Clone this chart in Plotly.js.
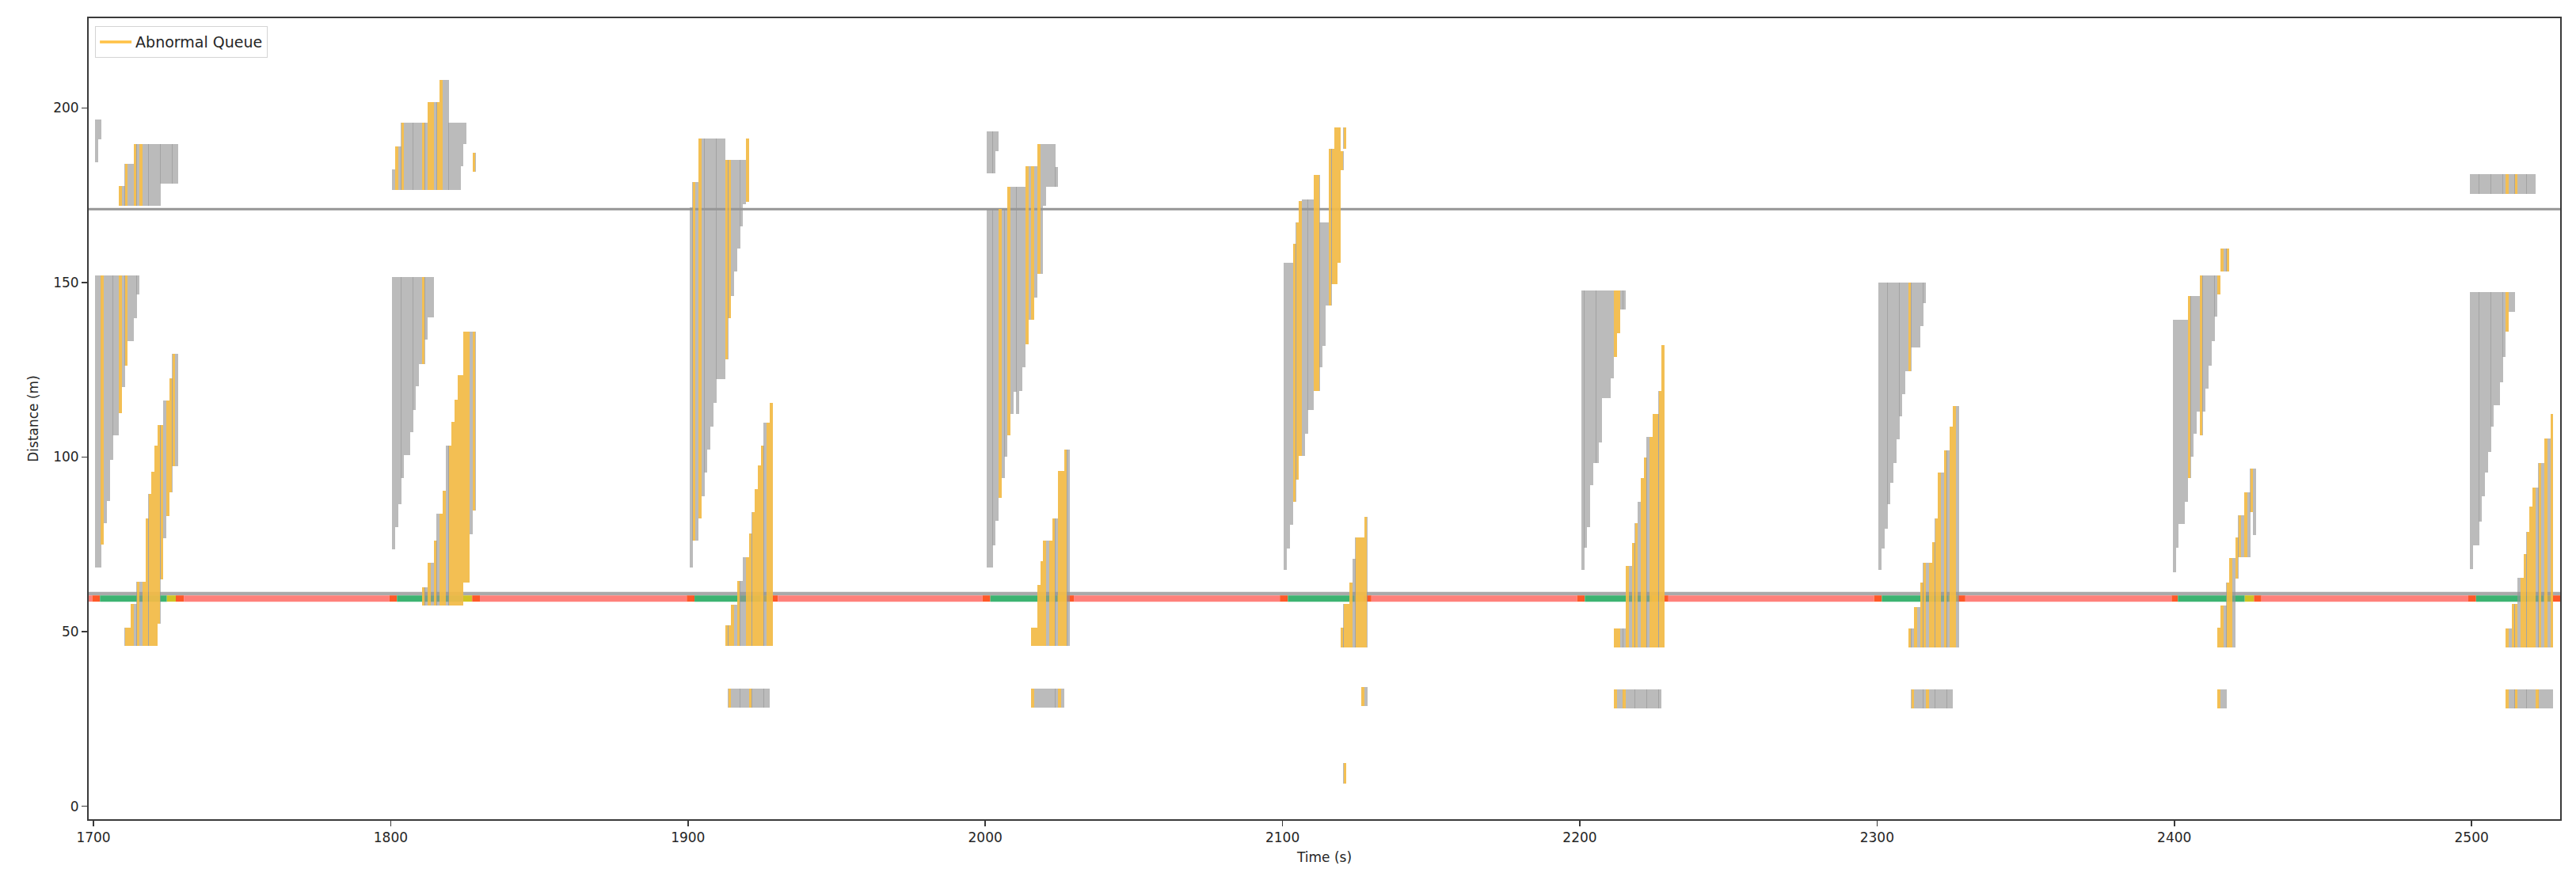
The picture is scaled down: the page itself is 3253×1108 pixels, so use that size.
<!DOCTYPE html>
<html>
<head>
<meta charset="utf-8">
<script src="https://cdn.plot.ly/plotly-3.0.1.min.js"></script>
<style>html,body{margin:0;padding:0;background:#fff}#chart{width:3253px;height:1108px}</style>
</head>
<body>
<div id="chart"></div>
<script>
// ---------- DATA ----------
// Each queue bar: [time (s), lower distance (m), upper distance (m), abnormal flag]
const cycle1700 = [
  [1701,184.5,196.6,0],[1702,191,196.6,0],
  [1709,172,177.6,1],[1710,172,177.6,0],[1711,172,183.9,1],[1712,172,183.9,0],[1713,172,183.9,0],
  [1714,172,189.7,1],[1715,172,189.7,0],[1716,172,189.7,1],[1717,172,189.7,0],[1718,172,189.7,0],
  [1719,172,189.7,0],[1720,172,189.7,0],[1721,172,189.7,0],[1722,172,189.7,0],
  [1723,178.3,189.7,0],[1724,178.3,189.7,0],[1725,178.3,189.7,0],[1726,178.3,189.7,0],[1727,178.3,189.7,0],[1728,178.3,189.7,0],
  [1701,68.4,152,0],[1702,68.4,152,0],[1703,75,152,1],[1704,81.1,152,0],[1705,87.5,152,0],[1706,99.2,152,0],
  [1707,106.2,152,0],[1708,106.2,152,0],[1709,112.7,152,1],[1710,120,152,0],[1711,126.3,152,1],
  [1712,133.3,152,0],[1713,133.3,152,0],[1714,139.7,152,0],[1715,146.7,152,0],
  [1711,46,51.2,1],[1712,46,51.2,1],[1713,46,57.9,1],[1714,46,57.9,0],[1715,46,64.3,1],[1716,46,64.3,0],
  [1717,46,64.3,1],[1718,46,82.4,1],[1719,46,89.4,1],[1720,46,95.8,1],[1721,46,103.2,1],[1722,52.2,109.2,1],
  [1723,65,109.2,1],[1724,76.8,116.2,0],[1725,83.2,116.2,1],[1726,90,122.6,1],[1727,97.4,129.5,1],[1728,97.4,129.5,0]
];
const cycle1800 = [
  [1801,176.6,182.3,0],[1802,176.6,189,1],[1803,176.6,189,0],[1804,176.6,195.7,1],
  [1805,176.6,195.7,0],[1806,176.6,195.7,0],[1807,176.6,195.7,0],[1808,176.6,195.7,0],[1809,176.6,195.7,0],[1810,176.6,195.7,0],
  [1811,176.6,195.7,1],[1812,176.6,195.7,0],[1813,176.6,201.7,1],[1814,176.6,201.7,1],[1815,176.6,201.7,0],[1816,176.6,201.7,1],
  [1817,176.6,208.1,1],[1818,176.6,208.1,0],[1819,176.6,208.1,0],[1820,176.6,195.7,0],[1821,176.6,195.7,0],[1822,176.6,195.7,0],
  [1823,176.6,195.7,0],[1824,183.2,195.7,0],[1825,189.7,195.7,0],[1828,181.7,187.2,1],
  [1801,73.5,151.5,0],[1802,79.9,151.5,0],[1803,86.5,151.5,0],[1804,93.9,151.5,0],[1805,100.5,151.5,0],[1806,100.5,151.5,0],
  [1807,107.2,151.5,0],[1808,113.6,151.5,0],[1809,120.2,151.5,0],[1810,126.6,151.5,0],[1811,126.6,151.5,1],[1812,133.7,151.5,0],
  [1813,140.1,151.5,0],[1814,140.1,151.5,0],
  [1811,57.4,62.7,1],[1812,57.4,62.7,0],[1813,57.4,69.7,1],[1814,57.4,69.7,0],[1815,57.4,76.1,1],[1816,57.4,83.7,0],
  [1817,57.4,83.7,1],[1818,57.4,90.4,1],[1819,57.4,103.4,0],[1820,57.4,103.4,1],[1821,57.4,110,1],[1822,57.4,116.4,1],
  [1823,57.4,123.4,1],[1824,57.4,123.4,1],[1825,64,135.9,1],[1826,64,135.9,1],[1827,78,135.9,0],[1828,84.6,135.9,1]
];
const cycle1900 = [
  [1901,68.4,171.5,0],[1902,76.1,178.8,1],[1903,76.1,178.8,0],[1904,82.4,191.3,1],[1905,88.8,191.3,0],[1906,95.5,191.3,0],
  [1907,102.2,191.3,0],[1908,108.8,191.3,0],[1909,115.5,191.3,0],[1910,122.3,191.3,0],[1911,122.3,191.3,0],[1912,122.3,191.3,0],
  [1913,127.9,185.2,1],[1914,139.7,185.2,1],[1915,146.1,185.2,0],[1916,153.1,185.2,0],
  [1917,159.7,185.2,0],[1918,166,185.2,0],[1919,172.4,185.2,0],[1920,173.2,191.3,1],
  [1913,45.9,51.9,1],[1914,45.9,51.9,1],[1915,45.9,57.8,1],[1916,45.9,57.8,0],[1917,45.9,64.6,1],[1918,45.9,64.6,0],
  [1919,45.9,71.3,0],[1920,45.9,71.3,1],[1921,45.9,78.2,1],[1922,45.9,84.3,1],[1923,45.9,90.9,1],[1924,45.9,97.7,1],
  [1925,45.9,103.4,1],[1926,45.9,109.8,0],[1927,45.9,109.8,1],[1928,45.9,115.5,1],
  [1914,28.3,33.7,1],[1915,28.3,33.7,0],[1916,28.3,33.7,0],[1917,28.3,33.7,0],[1918,28.3,33.7,0],[1919,28.3,33.7,0],
  [1920,28.3,33.7,0],[1921,28.3,33.7,1],[1922,28.3,33.7,0],[1923,28.3,33.7,0],[1924,28.3,33.7,0],[1925,28.3,33.7,0],
  [1926,28.3,33.7,0],[1927,28.3,33.7,0]
];
const cycle2000 = [
  [2001,181.3,193.2,0],[2002,181.3,193.2,0],[2003,181.3,193.2,0],[2004,187.7,193.2,0],
  [2001,68.4,171,0],[2002,68.4,171,0],[2003,74.8,171,0],[2004,81.8,171,0],[2005,88.4,171,1],[2006,93.9,171,0],[2007,100.2,171,0],
  [2008,106.2,177.5,1],[2009,112.3,177.5,0],[2010,118.7,177.5,0],[2011,112.3,177.5,0],[2012,118.9,177.5,0],[2013,125.7,177.5,0],
  [2014,132.4,183.4,1],[2015,139.3,183.4,0],[2016,139.3,183.4,1],[2017,145.7,183.4,0],
  [2018,152.4,189.7,1],[2019,152.4,189.7,0],[2020,171.9,189.7,0],[2021,177.5,189.7,0],[2022,177.5,189.7,0],[2023,177.5,189.7,0],[2024,177.5,183,0],
  [2016,45.9,51.2,1],[2017,45.9,51.2,1],[2018,45.9,63.3,1],[2019,45.9,70.1,1],[2020,45.9,76.1,1],[2021,45.9,76.1,0],[2022,45.9,76.1,1],
  [2023,45.9,82.4,1],[2024,45.9,82.4,0],[2025,45.9,96,1],[2026,45.9,96,1],[2027,45.9,102.2,1],[2028,45.9,102.2,0],
  [2016,28.3,33.7,1],[2017,28.3,33.7,0],[2018,28.3,33.7,0],[2019,28.3,33.7,0],[2020,28.3,33.7,0],[2021,28.3,33.7,0],
  [2022,28.3,33.7,0],[2023,28.3,33.7,0],[2024,28.3,33.7,0],[2025,28.3,33.7,1],[2026,28.3,33.7,0]
];
const cycle2100 = [
  [2101,67.7,155.7,0],[2102,73.9,155.7,0],[2103,80.7,155.7,0],[2104,87.1,161.2,1],[2105,93.5,167.3,1],[2106,100.3,173.4,1],
  [2107,100.3,173.7,0],[2108,106.8,173.7,0],[2109,113.6,173.7,0],[2110,113.6,173.7,0],[2111,119,180.9,1],[2112,119,180.9,1],
  [2113,125.8,167.3,0],[2114,131.9,167.3,0],[2115,143.5,167.3,0],[2116,143.5,188.3,1],[2117,149.6,188.3,1],[2118,149.6,194.5,1],
  [2119,155.7,194.5,1],[2120,182.2,187.7,1],[2121,188.3,194.5,1],
  [2120,45.6,51.1,1],[2121,45.6,57.9,1],[2122,45.6,57.9,1],[2123,45.6,64,1],[2124,45.6,70.8,0],[2125,45.6,76.9,1],
  [2126,45.6,76.9,1],[2127,45.6,76.9,1],[2128,45.6,83,1],
  [2127,28.7,34.1,1],[2128,28.7,34.1,0],
  [2121,6.5,12.4,1]
];
const cycle2200 = [
  [2201,67.8,147.7,0],[2202,74.1,147.7,0],[2203,79.9,147.7,0],[2204,92,147.7,0],[2205,98.3,147.7,0],[2206,98.3,147.7,0],
  [2207,104.1,147.7,0],[2208,116.8,147.7,0],[2209,116.8,147.7,0],[2210,116.8,147.7,0],[2211,122.5,147.7,0],[2212,128.6,147.7,1],
  [2213,135.5,147.7,1],[2214,142.2,147.7,0],[2215,142.2,147.7,0],
  [2212,45.5,51,1],[2213,45.5,51,1],[2214,45.5,51,0],[2215,45.5,51,0],[2216,45.5,68.8,1],[2217,45.5,68.8,0],[2218,45.5,75.4,1],
  [2219,45.5,81.1,1],[2220,45.5,87.1,0],[2221,45.5,93.9,1],[2222,45.5,99.9,1],[2223,45.5,105.7,0],[2224,45.5,105.7,1],
  [2225,45.5,112.3,1],[2226,45.5,112.3,1],[2227,45.5,118.9,1],[2228,45.5,132,1],
  [2212,28.1,33.4,1],[2213,28.1,33.4,0],[2214,28.1,33.4,0],[2215,28.1,33.4,1],[2216,28.1,33.4,0],[2217,28.1,33.4,0],
  [2218,28.1,33.4,0],[2219,28.1,33.4,0],[2220,28.1,33.4,0],[2221,28.1,33.4,0],[2222,28.1,33.4,0],[2223,28.1,33.4,0],
  [2224,28.1,33.4,0],[2225,28.1,33.4,0],[2226,28.1,33.4,0],[2227,28.1,33.4,0]
];
const cycle2300 = [
  [2301,67.8,149.9,0],[2302,73.9,149.9,0],[2303,79.5,149.9,0],[2304,86.5,149.9,0],[2305,92.6,149.9,0],[2306,98.3,149.9,0],
  [2307,105,149.9,0],[2308,111.7,149.9,0],[2309,118.1,149.9,0],[2310,124.7,149.9,0],[2311,124.7,149.9,1],[2312,131.4,149.9,0],
  [2313,131.4,149.9,0],[2314,131.4,149.9,0],[2315,137.5,149.9,0],[2316,144.2,149.9,0],
  [2311,45.5,51,1],[2312,45.5,51,0],[2313,45.5,57,1],[2314,45.5,57,0],[2315,45.5,64,1],[2316,45.5,69.7,1],[2317,45.5,69.7,0],
  [2318,45.5,69.7,1],[2319,45.5,75.7,1],[2320,45.5,82.4,1],[2321,45.5,95.5,1],[2322,45.5,95.5,0],[2323,45.5,101.9,1],
  [2324,45.5,101.9,0],[2325,45.5,108.8,1],[2326,45.5,114.6,1],[2327,45.5,114.6,0],
  [2312,28.1,33.4,1],[2313,28.1,33.4,0],[2314,28.1,33.4,0],[2315,28.1,33.4,0],[2316,28.1,33.4,0],[2317,28.1,33.4,1],
  [2318,28.1,33.4,0],[2319,28.1,33.4,0],[2320,28.1,33.4,0],[2321,28.1,33.4,0],[2322,28.1,33.4,0],[2323,28.1,33.4,0],
  [2324,28.1,33.4,0],[2325,28.1,33.4,0]
];
const cycle2400 = [
  [2400,67.1,139.3,0],[2401,74.1,139.3,0],[2402,80.8,139.3,0],[2403,80.8,139.3,0],[2404,87.1,139.3,0],
  [2405,93.9,146.1,1],[2406,100.2,146.1,0],[2407,106.6,146.1,0],[2408,113,146.1,0],
  [2409,106.2,152.1,1],[2410,113,152.1,0],[2411,119.7,152.1,0],[2412,126.1,152.1,0],[2413,133.3,152.1,0],[2414,140.3,152.1,0],
  [2415,146.7,152.1,1],[2416,153.1,159.7,1],[2417,153.1,159.7,0],[2418,153.1,159.7,1],
  [2415,45.5,51.2,1],[2416,45.5,57.6,1],[2417,45.5,57.6,0],[2418,45.5,64,1],[2419,45.5,71,1],[2420,45.5,71,0],
  [2421,65.2,76.9,1],[2422,71.3,83.3,1],[2423,71.3,83.3,0],[2424,71.3,90,1],[2425,71.3,90,0],[2426,84.3,96.8,1],[2427,77.7,96.8,0],
  [2415,28.1,33.4,1],[2416,28.1,33.4,0],[2417,28.1,33.4,0]
];
const cycle2500 = [
  [2500,175.3,181.1,0],[2501,175.3,181.1,0],[2502,175.3,181.1,0],[2503,175.3,181.1,0],[2504,175.3,181.1,0],[2505,175.3,181.1,0],
  [2506,175.3,181.1,0],[2507,175.3,181.1,0],[2508,175.3,181.1,0],[2509,175.3,181.1,0],[2510,175.3,181.1,0],[2511,175.3,181.1,0],
  [2512,175.3,181.1,1],[2513,175.3,181.1,0],[2514,175.3,181.1,0],[2515,175.3,181.1,1],[2516,175.3,181.1,0],[2517,175.3,181.1,0],
  [2518,175.3,181.1,0],[2519,175.3,181.1,0],[2520,175.3,181.1,0],[2521,175.3,181.1,0],
  [2500,68,147.3,0],[2501,74.8,147.3,0],[2502,74.8,147.3,0],[2503,81.5,147.3,0],[2504,88.8,147.3,0],[2505,95.5,147.3,0],
  [2506,101.5,147.3,0],[2507,108.8,147.3,0],[2508,114.9,147.3,0],[2509,114.9,147.3,0],[2510,121.5,147.3,0],[2511,128.6,147.3,0],
  [2512,135.9,147.3,1],[2513,141.6,147.3,0],[2514,141.6,147.3,0],
  [2512,45.5,51,1],[2513,45.5,51,0],[2514,45.5,57.9,1],[2515,45.5,57.9,1],[2516,45.5,65.5,0],[2517,45.5,65.5,1],
  [2518,45.5,72.2,1],[2519,45.5,78.6,1],[2520,45.5,85.8,1],[2521,45.5,91.3,1],[2522,45.5,91.3,0],[2523,45.5,98.3,1],
  [2524,45.5,98.3,0],[2525,45.5,105.3,1],[2526,45.5,105.3,0],[2527,45.5,112.3,1],
  [2512,28.1,33.4,1],[2513,28.1,33.4,0],[2514,28.1,33.4,0],[2515,28.1,33.4,1],[2516,28.1,33.4,0],[2517,28.1,33.4,0],
  [2518,28.1,33.4,0],[2519,28.1,33.4,0],[2520,28.1,33.4,0],[2521,28.1,33.4,0],[2522,28.1,33.4,1],[2523,28.1,33.4,0],
  [2524,28.1,33.4,0],[2525,28.1,33.4,0],[2526,28.1,33.4,0],[2527,28.1,33.4,0]
];

// Signal timing (s): all-red before green, green, yellow, all-red after yellow, red
const sigPreStart    = [1699.6, 1799.6, 1899.6, 1999.1, 2099.1, 2199.1, 2299.0, 2399.1, 2498.9];
const sigGreenStart  = [1702.2, 1802.1, 1902.2, 2001.7, 2101.8, 2201.7, 2301.6, 2401.2, 2501.5];
const sigYellowStart = [1724.7, 1824.4, 1924.5, 2024.2, 2124.3, 2224.2, 2324.1, 2423.7, 2524.3];
const sigClearStart  = [1727.7, 1827.4, 1927.5, 2027.2, 2127.3, 2227.2, 2327.1, 2426.8, 2527.3];
const sigRedStart    = [1730.4, 1830.0, 1930.2, 2029.8, 2129.9, 2229.8, 2329.7, 2429.3, 2529.9];

const signalY = 59.5;          // distance of signal bar
const stopLineY = 60.9;        // grey line above signal bar
const upstreamLineY = 171;     // upstream link boundary
const xTicks = [1700, 1800, 1900, 2000, 2100, 2200, 2300, 2400, 2500];
const yTicks = [0, 50, 100, 150, 200];
const xRange = [1698.4, 2529.8];
const yRange = [-3.7, 225.7];

// ---------- BUILD ----------
const allBars = [].concat(cycle1700, cycle1800, cycle1900, cycle2000, cycle2100,
                          cycle2200, cycle2300, cycle2400, cycle2500);
const abn = allBars.filter(b => b[3] === 1);

const grayTrace = {
  type: 'bar', x: allBars.map(b => b[0]), base: allBars.map(b => b[1]),
  y: allBars.map(b => b[2] - b[1]), width: 1.06,
  marker: {color: 'rgba(150,150,150,0.65)', line: {width: 0}},
  showlegend: false, hoverinfo: 'skip'
};
const orangeTrace = {
  type: 'bar', x: abn.map(b => b[0]), base: abn.map(b => b[1]),
  y: abn.map(b => b[2] - b[1]), width: 0.95,
  marker: {color: 'rgba(255,192,60,0.82)', line: {width: 0}},
  showlegend: false, hoverinfo: 'skip'
};
const legendTrace = {
  type: 'scatter', mode: 'lines', x: [null], y: [null], name: 'Abnormal Queue',
  line: {color: 'rgba(255,186,50,0.9)', width: 3.5}, hoverinfo: 'skip'
};

const shapes = [];
function seg(x0, x1, color) {
  shapes.push({type: 'rect', xref: 'x', yref: 'y', x0: x0, x1: x1,
    y0: signalY - 0.9, y1: signalY + 0.9, fillcolor: color, line: {width: 0}, layer: 'below'});
}
const RED = 'rgb(255,128,122)', ALLRED = 'rgb(255,88,40)', GREEN = 'rgb(60,179,113)', YELLOW = 'rgb(208,196,36)';
seg(xRange[0], sigPreStart[0], RED);
for (let i = 0; i < sigPreStart.length; i++) {
  seg(sigPreStart[i], sigGreenStart[i], ALLRED);
  seg(sigGreenStart[i], sigYellowStart[i], GREEN);
  seg(sigYellowStart[i], sigClearStart[i], YELLOW);
  seg(sigClearStart[i], sigRedStart[i], ALLRED);
  const next = i + 1 < sigPreStart.length ? sigPreStart[i + 1] : xRange[1];
  if (next > sigRedStart[i]) seg(sigRedStart[i], next, RED);
}
shapes.push({type: 'line', xref: 'paper', yref: 'y', x0: 0, x1: 1, y0: stopLineY, y1: stopLineY,
  line: {color: 'rgb(170,170,170)', width: 4.5}, layer: 'below'});
shapes.push({type: 'line', xref: 'paper', yref: 'y', x0: 0, x1: 1, y0: upstreamLineY, y1: upstreamLineY,
  line: {color: 'rgb(150,150,150)', width: 3}, layer: 'below'});

const axisCommon = {
  showgrid: false, zeroline: false, showline: true, mirror: true,
  linecolor: '#3a3a3a', linewidth: 2, ticks: 'outside', ticklen: 7, tickwidth: 1.6,
  tickcolor: '#3a3a3a', tickfont: {family: 'DejaVu Sans', size: 17, color: '#262626'}, automargin: false
};

const layout = {
  width: 3253, height: 1108,
  margin: {l: 112, r: 20, t: 23, b: 73},
  paper_bgcolor: '#ffffff', plot_bgcolor: '#ffffff',
  barmode: 'overlay', bargap: 0,
  font: {family: 'DejaVu Sans', size: 17, color: '#262626'},
  xaxis: Object.assign({}, axisCommon, {
    range: xRange, tickmode: 'array', tickvals: xTicks, ticktext: xTicks.map(String),
    title: {text: 'Time (s)', font: {family: 'DejaVu Sans', size: 17, color: '#262626'}, standoff: 10}
  }),
  yaxis: Object.assign({}, axisCommon, {
    range: yRange, tickmode: 'array', tickvals: yTicks, ticktext: yTicks.map(String),
    title: {text: 'Distance (m)', font: {family: 'DejaVu Sans', size: 17, color: '#262626'}, standoff: 14}
  }),
  showlegend: true,
  legend: {x: 0.0026, y: 0.99, xanchor: 'left', yanchor: 'top', itemwidth: 40,
    bgcolor: 'rgba(255,255,255,0.85)', bordercolor: '#d4d4d4', borderwidth: 1,
    font: {family: 'DejaVu Sans', size: 19, color: '#262626'}},
  shapes: shapes
};

Plotly.newPlot('chart', [grayTrace, orangeTrace, legendTrace], layout, {staticPlot: true, displayModeBar: false});
</script>
</body>
</html>
